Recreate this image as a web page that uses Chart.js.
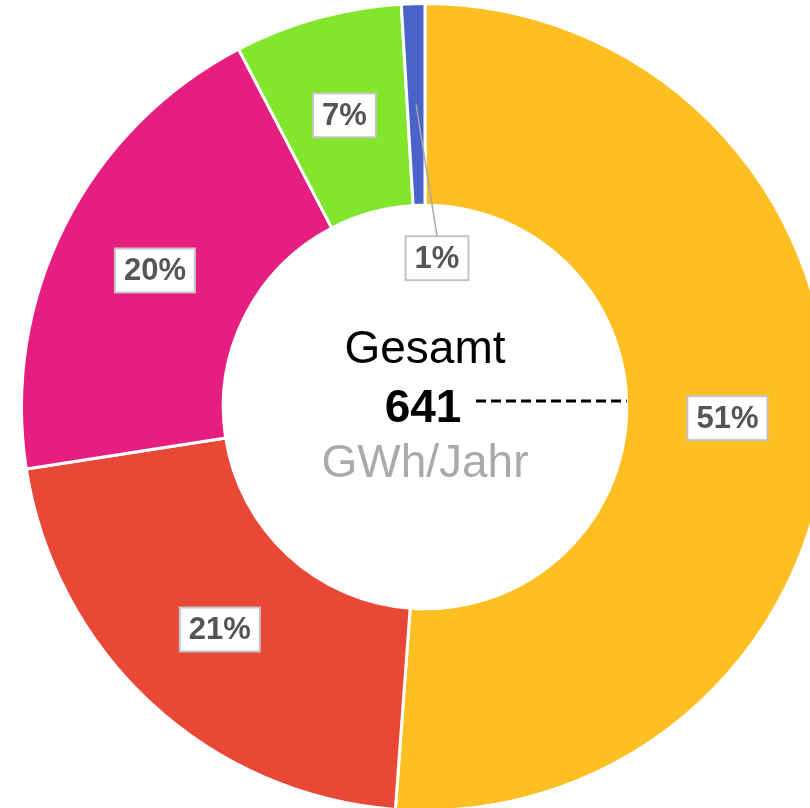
<!DOCTYPE html>
<html>
<head>
<meta charset="utf-8">
<script src="https://cdn.jsdelivr.net/npm/chart.js@4/dist/chart.umd.min.js"></script>
<style>
  html, body { margin: 0; padding: 0; background: #fff; overflow: hidden; }
  #wrap { position: absolute; left: 0; top: 2px; width: 850px; height: 810px; }
</style>
</head>
<body>
<div id="wrap"><canvas id="energyChart" width="850" height="810"></canvas></div>
<script>
// Energy mix, GWh per year
const categories = ['Anteil A', 'Anteil B', 'Anteil C', 'Anteil D', 'Anteil E'];
const values = [328, 137, 127, 43, 6];
const sliceColors = ['#FEBF23', '#EA4836', '#E61E80', '#82E62C', '#4A63C8'];
const centerTitle = 'Gesamt';
const centerUnit = 'GWh/Jahr';

const total = values.reduce((a, b) => a + b, 0);
const FONT = '"Liberation Sans", Arial, sans-serif';

// Boxed percentage labels; very small slices get pulled inward with a leader line
const boxLabels = {
    id: 'boxLabels',
    afterDatasetsDraw(chart) {
        const ctx = chart.ctx;
        const arcs = chart.getDatasetMeta(0).data;
        ctx.save();
        ctx.font = 'bold 31px ' + FONT;
        ctx.textAlign = 'center';
        ctx.textBaseline = 'middle';
        arcs.forEach((arc, i) => {
            const p = arc.getProps(['x', 'y', 'startAngle', 'endAngle', 'innerRadius', 'outerRadius'], true);
            const mid = (p.startAngle + p.endAngle) / 2;
            const midR = (p.innerRadius + p.outerRadius) / 2;
            const ax = p.x + Math.cos(mid) * midR;
            const ay = p.y + Math.sin(mid) * midR;
            const text = Math.round(values[i] / total * 100) + '%';
            const w = ctx.measureText(text).width + 18;
            const h = 44;
            let lx = ax, ly = ay;
            const small = (p.endAngle - p.startAngle) < 0.15;
            if (small) {
                const a2 = mid + 0.11;
                const r2 = p.innerRadius * 0.74;
                lx = p.x + Math.cos(a2) * r2;
                ly = p.y + Math.sin(a2) * r2;
                ctx.strokeStyle = '#a8a8a8';
                ctx.lineWidth = 1.5;
                ctx.beginPath();
                ctx.moveTo(ax, ay);
                ctx.lineTo(lx, ly - h / 2);
                ctx.stroke();
            }
            ctx.fillStyle = '#ffffff';
            ctx.fillRect(lx - w / 2, ly - h / 2, w, h);
            ctx.strokeStyle = '#c4c4c4';
            ctx.lineWidth = 2;
            ctx.strokeRect(lx - w / 2, ly - h / 2, w, h);
            ctx.fillStyle = '#555555';
            ctx.fillText(text, lx, ly + 1);
        });
        ctx.restore();
    }
};

// Total in the hole of the ring
const centerText = {
    id: 'centerText',
    afterDraw(chart) {
        const ctx = chart.ctx;
        const arc = chart.getDatasetMeta(0).data[0];
        const cx = arc.x, cy = arc.y;
        ctx.save();
        ctx.textAlign = 'center';
        ctx.textBaseline = 'alphabetic';
        ctx.fillStyle = '#000000';
        ctx.font = '46px ' + FONT;
        ctx.fillText(centerTitle, cx, cy - 44);
        ctx.font = 'bold 46px ' + FONT;
        ctx.fillText(String(total), cx - 2, cy + 15);
        ctx.fillStyle = '#aaaaaa';
        ctx.font = '46px ' + FONT;
        ctx.fillText(centerUnit, cx, cy + 70);
        // dashed pointer to the largest slice
        ctx.strokeStyle = '#000000';
        ctx.lineWidth = 3;
        ctx.setLineDash([10, 5]);
        ctx.beginPath();
        ctx.moveTo(cx + 51, cy - 6);
        ctx.lineTo(cx + arc.innerRadius, cy - 6);
        ctx.stroke();
        ctx.restore();
    }
};

new Chart(document.getElementById('energyChart'), {
    type: 'doughnut',
    data: {
        labels: categories,
        datasets: [{
            data: values,
            backgroundColor: sliceColors,
            borderColor: '#ffffff',
            borderWidth: 3
        }]
    },
    options: {
        responsive: false,
        animation: false,
        cutout: '50%',
        plugins: {
            legend: { display: false },
            tooltip: { enabled: false }
        }
    },
    plugins: [boxLabels, centerText]
});
</script>
</body>
</html>
